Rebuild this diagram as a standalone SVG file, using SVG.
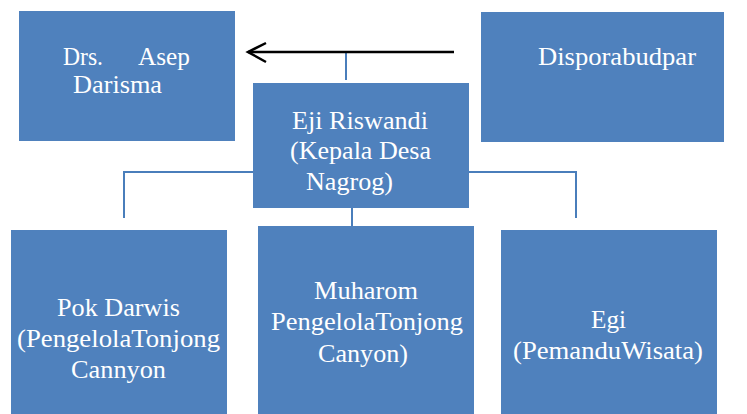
<svg xmlns="http://www.w3.org/2000/svg" width="747" height="414" viewBox="0 0 747 414">
<style>
.box{fill:#4F81BD}
.t{font-family:"Liberation Serif","Times New Roman",serif;font-size:25.5px;fill:#FFFFFF}
.c{fill:none;stroke:#4A7EBB;stroke-width:2}
.a{fill:none;stroke:#000000;stroke-width:2.5}
</style>
<rect width="747" height="414" fill="#FFFFFF"/>
<g id="connectors">
<polyline class="c" points="124,218 124,172 253,172"/>
<polyline class="c" points="469,172 576,172 576,218"/>
<line class="c" x1="346" y1="52" x2="346" y2="80"/>
<line class="c" x1="352" y1="208" x2="352" y2="253"/>
<line class="a" x1="454" y1="52" x2="248" y2="52"/>
<polyline class="a" points="266,43 248,52 266,62"/>
</g>
<g id="node-asep">
<rect class="box" x="19" y="11" width="216" height="130"/>
<text class="t"><tspan x="63" y="65" textLength="40" lengthAdjust="spacingAndGlyphs">Drs.</tspan><tspan x="138" y="65" textLength="52" lengthAdjust="spacingAndGlyphs">Asep</tspan><tspan x="73" y="93" textLength="89" lengthAdjust="spacingAndGlyphs">Darisma</tspan></text>
</g>
<g id="node-disporabudpar">
<rect class="box" x="481" y="12" width="243" height="130"/>
<text class="t" x="538" y="65" textLength="158" lengthAdjust="spacingAndGlyphs">Disporabudpar</text>
</g>
<g id="node-eji">
<rect class="box" x="253" y="83" width="216" height="125"/>
<text class="t"><tspan x="292" y="129" textLength="136" lengthAdjust="spacingAndGlyphs">Eji Riswandi</tspan><tspan x="290" y="159" textLength="141" lengthAdjust="spacingAndGlyphs">(Kepala Desa</tspan><tspan x="306" y="190" textLength="87" lengthAdjust="spacingAndGlyphs">Nagrog)</tspan></text>
</g>
<g id="node-pokdarwis">
<rect class="box" x="11" y="230" width="216" height="184"/>
<text class="t"><tspan x="57" y="316" textLength="123" lengthAdjust="spacingAndGlyphs">Pok Darwis</tspan><tspan x="17" y="347" textLength="203" lengthAdjust="spacingAndGlyphs">(PengelolaTonjong</tspan><tspan x="71" y="378" textLength="95" lengthAdjust="spacingAndGlyphs">Cannyon</tspan></text>
</g>
<g id="node-muharom">
<rect class="box" x="258" y="226" width="216" height="188"/>
<text class="t"><tspan x="314" y="299" textLength="104" lengthAdjust="spacingAndGlyphs">Muharom</tspan><tspan x="271" y="330" textLength="192" lengthAdjust="spacingAndGlyphs">PengelolaTonjong</tspan><tspan x="318" y="362" textLength="90" lengthAdjust="spacingAndGlyphs">Canyon)</tspan></text>
</g>
<g id="node-egi">
<rect class="box" x="501" y="230" width="216" height="184"/>
<text class="t"><tspan x="591" y="328" textLength="35" lengthAdjust="spacingAndGlyphs">Egi</tspan><tspan x="513" y="359" textLength="190" lengthAdjust="spacingAndGlyphs">(PemanduWisata)</tspan></text>
</g>
</svg>
